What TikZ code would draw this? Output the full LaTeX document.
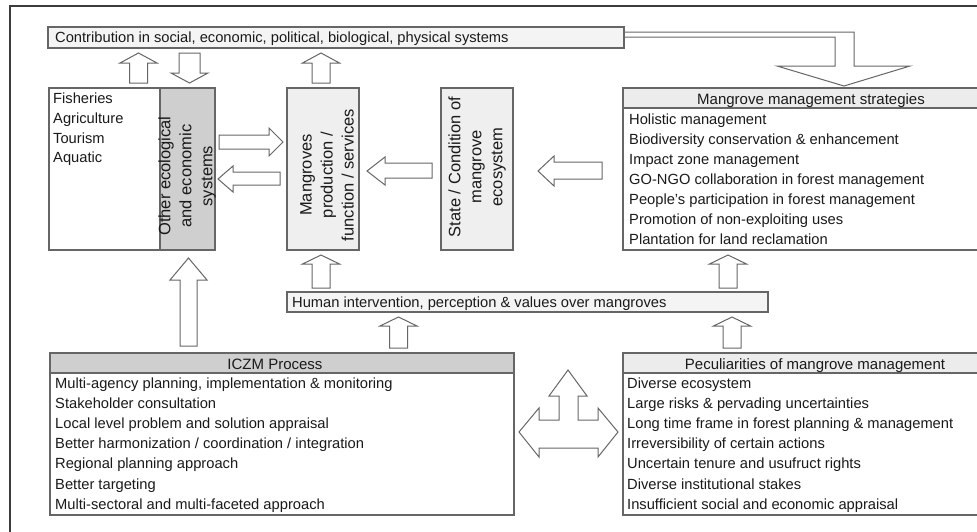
\documentclass[tikz,border=0pt]{standalone}
\usepackage{fontspec}
\setmainfont{Liberation Sans}
\definecolor{linegray}{HTML}{666666}
\definecolor{framegray}{HTML}{3C3C3C}
\definecolor{fillA}{HTML}{F4F4F4}
\definecolor{fillB}{HTML}{EFEFEF}
\definecolor{fillHead}{HTML}{ECECEC}
\definecolor{fillDark}{HTML}{CFCFCF}
\definecolor{txtgray}{HTML}{1A1A1A}
\begin{document}
\begin{tikzpicture}[x=1pt,y=-1pt,
  box/.style={draw=linegray, line width=1.3pt, inner sep=0pt},
  blk/.style={draw=linegray, line width=1pt, fill=white, line join=miter},
  txt/.style={font=\fontsize{14.7}{20}\selectfont, text=txtgray, inner sep=0pt, anchor=base west},
  htxt/.style={font=\fontsize{15}{20}\selectfont, text=txtgray, inner sep=0pt, anchor=base},
  rtxt/.style={font=\fontsize{16.5}{21}\selectfont, text=txtgray, inner sep=0pt, rotate=90, align=center}]
\useasboundingbox (0,0) rectangle (977,531);
\clip (0,0) rectangle (977,531);
\fill[white] (0,0) rectangle (977,531);
% outer frame
\draw[framegray, line width=1.2pt] (10,6) rectangle (1100,600);

\newcommand\UpArr[4]{% cx, tip, headbase, bottom
  \draw[blk] (#1-9,#4) -- (#1-9,#3) -- (#1-18.5,#3) -- (#1,#2) -- (#1+18.5,#3) -- (#1+9,#3) -- (#1+9,#4) -- cycle;}

% boxes
\node[box, fill=fillA, minimum width=576, minimum height=21] (contrib) at (336,37.5) {};
\node[txt] (contribT) at (55,42) {Contribution in social, economic, political, biological, physical systems};

\node[box, fill=white, minimum width=111, minimum height=162] (fish) at (104.5,169) {};
\node[box, fill=fillDark, minimum width=55, minimum height=162] (other) at (187.5,169) {};
\node[txt] (f1) at (53,103) {Fisheries};
\node[txt] (f2) at (53,123) {Agriculture};
\node[txt] (f3) at (53,143) {Tourism};
\node[txt] (f4) at (53,162) {Aquatic};
\node[rtxt] (otherT) at (187,176) {Other ecological\\and economic\\systems};

\node[box, fill=fillB, minimum width=72, minimum height=162] (mang) at (323,169) {};
\node[rtxt] (mangT) at (327,175) {Mangroves\\production /\\function / services};

\node[box, fill=fillB, minimum width=72, minimum height=162] (state) at (477,169) {};
\node[rtxt] (stateT) at (477,167) {State / Condition of\\mangrove\\ecosystem};

\node[box, fill=white, minimum width=380, minimum height=162] (strat) at (813,169) {};
\node[box, fill=fillHead, minimum width=380, minimum height=20] (stratH) at (813,98) {};
\node[htxt] (stratHT) at (811,104) {Mangrove management strategies};
\foreach \t [count=\i] in {Holistic management, Biodiversity conservation \& enhancement, Impact zone management, GO-NGO collaboration in forest management, People's participation in forest management, Promotion of non-exploiting uses, Plantation for land reclamation}
  \node[txt] (s\i) at (629,{124+20*(\i-1)}) {\t};

\node[box, fill=fillA, minimum width=481, minimum height=20] (human) at (527.5,302) {};
\node[txt] (humanT) at (292,307) {Human intervention, perception \& values over mangroves};

\node[box, fill=white, minimum width=464, minimum height=162] (iczm) at (282,434) {};
\node[box, fill=fillDark, minimum width=464, minimum height=20] (iczmH) at (282,363) {};
\node[htxt] (iczmHT) at (275,369) {ICZM Process};
\foreach \t [count=\i] in {{Multi-agency planning, implementation \& monitoring}, Stakeholder consultation, Local level problem and solution appraisal, Better harmonization / coordination / integration, Regional planning approach, Better targeting, Multi-sectoral and multi-faceted approach}
  \node[txt] (c\i) at (55,{388+20.2*(\i-1)}) {\t};

\node[box, fill=white, minimum width=380, minimum height=162] (pec) at (813,434) {};
\node[box, fill=fillHead, minimum width=380, minimum height=20] (pecH) at (813,363) {};
\node[htxt] (pecHT) at (815,369) {Peculiarities of mangrove management};
\foreach \t [count=\i] in {Diverse ecosystem, Large risks \& pervading uncertainties, Long time frame in forest planning \& management, Irreversibility of certain actions, Uncertain tenure and usufruct rights, Diverse institutional stakes, Insufficient social and economic appraisal}
  \node[txt] (p\i) at (627,{388+20.2*(\i-1)}) {\t};

% block arrows
\UpArr{138.5}{53}{63}{83}
\draw[blk] (179,53) -- (200,53) -- (200,73) -- (208,73) -- (189.5,83) -- (171,73) -- (179,73) -- cycle;
\UpArr{321}{53}{63}{83}
\UpArr{321}{255}{264}{288}
\UpArr{728}{255}{264}{288}
\UpArr{398.5}{317}{326}{348}
\UpArr{732}{317}{326}{348}
\draw[blk] (180,346) -- (180,280) -- (170,280) -- (188.5,258) -- (207,280) -- (197,280) -- (197,346) -- cycle;
% horizontal arrows
\draw[blk] (219,135) -- (269,135) -- (269,128) -- (283,142) -- (269,156) -- (269,149) -- (219,149) -- cycle;
\draw[blk] (280,172) -- (233,172) -- (233,166) -- (218,179) -- (233,192) -- (233,185) -- (280,185) -- cycle;
\draw[blk] (432,163) -- (385,163) -- (385,157) -- (367,171) -- (385,185) -- (385,178) -- (432,178) -- cycle;
\draw[blk] (602,162) -- (554,162) -- (554,156) -- (538,171) -- (554,186) -- (554,179) -- (602,179) -- cycle;
% L-shaped arrow
\draw[blk] (625,32) -- (854,32) -- (854,66) -- (910,66) -- (844,86) -- (777,66) -- (835,66) -- (835,37) -- (625,37);
% three-way arrow
\draw[blk] (519,432) -- (539,408) -- (539,420) -- (559,420) -- (559,396) -- (549,396) -- (568,370) -- (587,396) -- (578,396) -- (578,420) -- (598,420) -- (598,408) -- (618,432) -- (598,457) -- (598,448) -- (539,448) -- (539,457) -- cycle;
\end{tikzpicture}
\end{document}
